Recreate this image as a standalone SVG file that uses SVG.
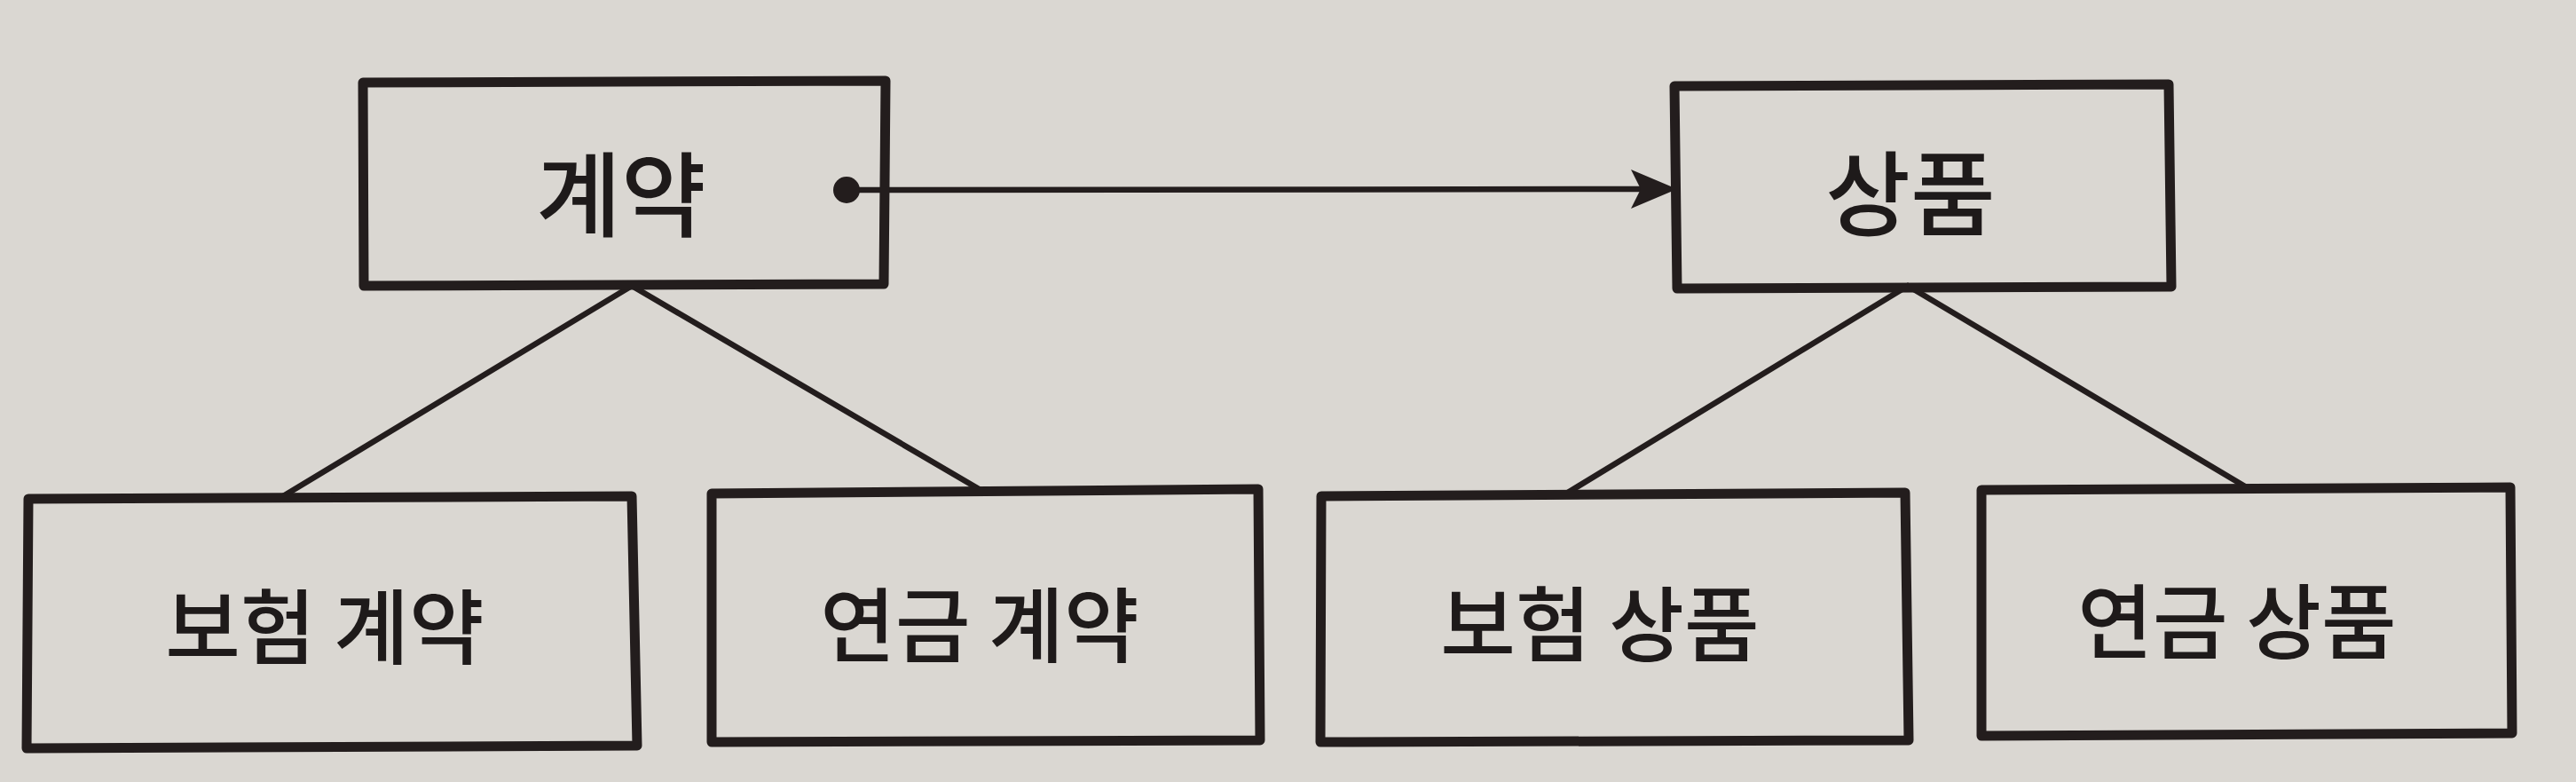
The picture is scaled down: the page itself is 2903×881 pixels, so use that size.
<svg xmlns="http://www.w3.org/2000/svg" width="2903" height="881" viewBox="0 0 2903 881">
<defs>
<style>
.box{fill:none;stroke:#231d1d;stroke-width:11;stroke-linejoin:round}
.ln{fill:none;stroke:#231d1d;stroke-width:6.5;stroke-linecap:round}
.t{font-family:"Noto Sans CJK KR","Noto Sans",sans-serif;font-weight:500;fill:#1e1a1a;text-anchor:middle;dominant-baseline:central}
.big{font-size:104px}
.sm{font-size:92px}
</style>
</defs>
<rect width="2903" height="881" fill="#dad7d2"/>
<g id="connectors">
<line class="ln" x1="954" y1="214" x2="1870" y2="213"/>
<path d="M1838,191 L1890,213 L1838,235 L1849,213 Z" fill="#231d1d"/>
<circle cx="954" cy="214" r="15" fill="#231d1d"/>
<polyline class="ln" points="319,559 712,322 1105,552"/>
<polyline class="ln" points="1765,556 2150,322 2530,548"/>
</g>
<g id="n-contract">
<path class="box" d="M409,93 L998,91 L996,320 L410,322 Z"/>
<text class="t big" x="700" y="213">계약</text>
</g>
<g id="n-product">
<path class="box" d="M1887,97 L2444,95 L2447,323 L1890,325 Z"/>
<text class="t big" x="2153" y="212">상품</text>
</g>
<g id="n-ins-contract">
<path class="box" d="M32,562 L712,559 L718,840 L30,843 Z"/>
<text class="t sm" x="366" y="700">보험 계약</text>
</g>
<g id="n-ann-contract">
<path class="box" d="M802,556 L1418,551 L1420,834 L802,836 Z"/>
<text class="t sm" x="1104" y="698">연금 계약</text>
</g>
<g id="n-ins-product">
<path class="box" d="M1489,559 L2147,555 L2151,834 L1488,836 Z"/>
<text class="t sm" x="1803" y="697">보험 상품</text>
</g>
<g id="n-ann-product">
<path class="box" d="M2233,552 L2829,549 L2831,826 L2233,829 Z"/>
<text class="t sm" x="2521" y="694">연금 상품</text>
</g>
</svg>
